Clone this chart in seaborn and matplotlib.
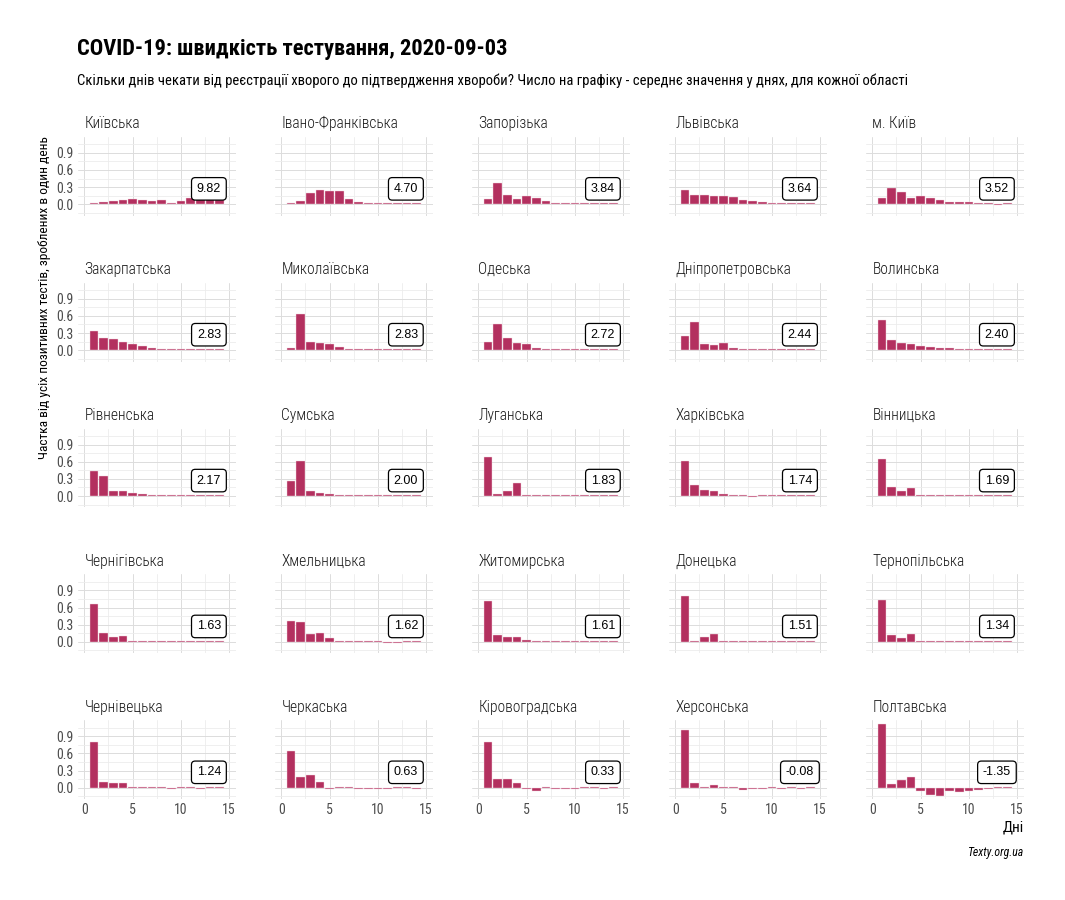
"""COVID-19: швидкість тестування по областях (facet bar charts)."""

import matplotlib
matplotlib.use("Agg")
import matplotlib.pyplot as plt
from matplotlib import font_manager
from matplotlib.ticker import MultipleLocator, FormatStrFormatter
import numpy as np
import pandas as pd
import seaborn as sns

# ---------- дані ----------
regions = ["Київська", "Івано-Франківська", "Запорізька", "Львівська", "м. Київ",
           "Закарпатська", "Миколаївська", "Одеська", "Дніпропетровська", "Волинська",
           "Рівненська", "Сумська", "Луганська", "Харківська", "Вінницька",
           "Чернігівська", "Хмельницька", "Житомирська", "Донецька", "Тернопільська",
           "Чернівецька", "Черкаська", "Кіровоградська", "Херсонська", "Полтавська"]
avg_days = [9.82, 4.70, 3.84, 3.64, 3.52,
            2.83, 2.83, 2.72, 2.44, 2.40,
            2.17, 2.00, 1.83, 1.74, 1.69,
            1.63, 1.62, 1.61, 1.51, 1.34,
            1.24, 0.63, 0.33, -0.08, -1.35]
days = list(range(1, 15))

kyivska = [0.03, 0.04, 0.06, 0.07, 0.10, 0.08, 0.06, 0.08, 0.03, 0.05, 0.11, 0.12, 0.10, 0.07]
ivano_frankivska = [0.02, 0.06, 0.20, 0.25, 0.24, 0.24, 0.10, 0.04, 0.03, 0.015, 0.015, 0.015, 0.015, 0.015]
zaporizka = [0.085, 0.37, 0.17, 0.085, 0.14, 0.11, 0.06, 0.03, 0.02, 0.02, 0.02, 0.03, 0.015, 0.015]
lvivska = [0.25, 0.16, 0.16, 0.15, 0.14, 0.12, 0.08, 0.05, 0.045, 0.03, 0.015, 0.015, 0.015, 0.015]
kyiv_city = [0.11, 0.29, 0.21, 0.11, 0.15, 0.11, 0.08, 0.045, 0.035, 0.035, 0.025, 0.02, -0.015, 0.015]
zakarpatska = [0.33, 0.22, 0.20, 0.135, 0.10, 0.07, 0.035, 0.02, 0.02, 0.015, 0.015, 0.015, 0.015, 0.015]
mykolaivska = [0.03, 0.63, 0.135, 0.13, 0.11, 0.055, 0.015, 0.015, 0.015, 0.015, 0.015, 0.015, 0.015, 0.015]
odeska = [0.15, 0.45, 0.21, 0.125, 0.10, 0.045, 0.015, 0.015, 0.015, 0.015, 0.015, 0.015, 0.015, 0.015]
dnipropetrovska = [0.24, 0.50, 0.11, 0.09, 0.12, 0.03, 0.02, 0.02, 0.018, 0.015, 0.015, 0.015, 0.015, 0.015]
volynska = [0.52, 0.18, 0.13, 0.11, 0.08, 0.05, 0.03, 0.035, 0.02, 0.015, 0.015, 0.015, 0.015, 0.015]
rivnenska = [0.43, 0.345, 0.085, 0.095, 0.06, 0.03, 0.02, 0.02, 0.02, 0.015, 0.015, 0.015, 0.015, 0.015]
sumska = [0.27, 0.61, 0.08, 0.045, 0.03, 0.02, 0.015, 0.018, 0.015, 0.015, 0.015, 0.015, 0.015, 0.015]
luhanska = [0.68, 0.04, 0.08, 0.22, 0.015, 0.015, 0.015, 0.015, 0.015, 0.015, 0.015, 0.015, 0.015, 0.015]
kharkivska = [0.61, 0.19, 0.10, 0.09, 0.04, 0.02, 0.015, -0.015, 0.015, 0.015, 0.015, 0.015, 0.015, 0.015]
vinnytska = [0.65, 0.15, 0.08, 0.14, 0.015, 0.015, 0.015, 0.015, 0.015, 0.015, 0.015, 0.015, 0.015, 0.015]
chernihivska = [0.67, 0.16, 0.09, 0.11, 0.015, 0.015, 0.015, 0.015, 0.015, 0.015, 0.015, 0.015, 0.015, 0.015]
khmelnytska = [0.37, 0.35, 0.13, 0.16, 0.07, 0.02, 0.018, 0.015, 0.015, 0.015, -0.015, -0.015, 0.015, 0.015]
zhytomyrska = [0.71, 0.12, 0.09, 0.085, 0.03, 0.015, 0.015, 0.015, 0.015, 0.015, 0.015, 0.015, 0.015, 0.015]
donetska = [0.81, 0.02, 0.08, 0.13, 0.015, 0.015, 0.015, 0.015, 0.015, 0.015, 0.015, 0.015, 0.015, 0.015]
ternopilska = [0.74, 0.12, 0.07, 0.13, 0.015, 0.015, 0.015, 0.015, 0.015, 0.015, 0.015, 0.015, 0.015, 0.015]
chernivetska = [0.80, 0.10, 0.085, 0.08, 0.015, 0.015, 0.015, 0.015, -0.015, 0.015, 0.015, -0.015, 0.015, 0.015]
cherkaska = [0.65, 0.195, 0.22, 0.10, -0.02, 0.015, 0.015, -0.015, -0.015, -0.025, -0.018, 0.015, 0.015, -0.015]
kirovohradska = [0.80, 0.15, 0.15, 0.09, -0.03, -0.055, 0.015, -0.02, -0.02, -0.02, 0.015, 0.015, -0.02, 0.015]
khersonska = [1.01, 0.075, 0.02, 0.05, 0.02, 0.015, -0.04, -0.02, -0.02, 0.015, -0.015, 0.015, -0.015, 0.015]
poltavska = [1.12, 0.07, 0.135, 0.19, -0.065, -0.12, -0.14, -0.055, -0.075, -0.055, -0.04, -0.03, 0.015, 0.015]

shares = [kyivska, ivano_frankivska, zaporizka, lvivska, kyiv_city,
          zakarpatska, mykolaivska, odeska, dnipropetrovska, volynska,
          rivnenska, sumska, luhanska, kharkivska, vinnytska,
          chernihivska, khmelnytska, zhytomyrska, donetska, ternopilska,
          chernivetska, cherkaska, kirovohradska, khersonska, poltavska]

df = pd.DataFrame({
    "region": np.repeat(regions, len(days)),
    "day": days * len(regions),
    "share": np.concatenate(shares),
})

# ---------- стиль ----------
sns.set_theme(style="whitegrid")

# вузький шрифт, якщо є; інакше Roboto з меншим кеглем
installed = {f.name for f in font_manager.fontManager.ttflist}
narrow = next((n for n in ["Roboto Condensed", "Liberation Sans Narrow",
                           "Open Sans Condensed"] if n in installed), None)
if narrow:
    plt.rcParams["font.family"] = [narrow, "DejaVu Sans"]
    k = 1.0
else:
    plt.rcParams["font.family"] = ["Roboto", "DejaVu Sans"]
    k = 0.78

BAR_COLOR = "#b3305f"
GRAY = "#4d4d4d"

g = sns.FacetGrid(df, col="region", col_wrap=5, col_order=regions,
                  sharex=True, sharey=True, despine=True)
g.map_dataframe(sns.barplot, x="day", y="share", native_scale=True,
                color=BAR_COLOR, saturation=1, width=0.9,
                edgecolor="#f3d6df", linewidth=0.3)

fig = g.figure
fig.set_size_inches(10.65, 9)
fig.subplots_adjust(left=0.0732, right=0.9615, top=0.848, bottom=0.112,
                    wspace=0.247, hspace=0.848)

for i, (ax, name, avg) in enumerate(zip(g.axes.flat, regions, avg_days)):
    ax.set_xlim(-0.65, 15.7)
    ax.set_ylim(-0.2, 1.18)
    ax.xaxis.set_major_locator(MultipleLocator(5))
    ax.xaxis.set_minor_locator(MultipleLocator(2.5))
    ax.yaxis.set_major_locator(MultipleLocator(0.3))
    ax.yaxis.set_minor_locator(MultipleLocator(0.15))
    ax.yaxis.set_major_formatter(FormatStrFormatter("%.1f"))
    ax.grid(True, which="major", color="#dcdcdc", linewidth=0.7)
    ax.grid(True, which="minor", color="#ececec", linewidth=0.6)
    ax.set_axisbelow(True)
    for s in ax.spines.values():
        s.set_visible(False)
    ax.tick_params(axis="both", which="both", length=0, labelsize=10 * k,
                   labelcolor=GRAY, pad=3)
    ax.set_xlabel("")
    ax.set_ylabel("")
    ax.set_title("")
    ax.set_title(name, loc="left", fontsize=11.2 * k, fontweight="light",
                 color="#1a1a1a", pad=6, x=0.04)
    ax.text(12.9, 0.27, f"{avg:.2f}", ha="center", va="center", fontsize=9,
            family=["Liberation Sans", "DejaVu Sans"], color="black",
            bbox=dict(boxstyle="round,pad=0.42,rounding_size=0.3",
                      fc="white", ec="black", lw=0.9))
    if i % 5 != 0:
        ax.tick_params(axis="y", labelleft=False)
    ax.tick_params(axis="x", labelbottom=i >= 20)

# ---------- підписи ----------
fig.text(0.0723, 0.946, "COVID-19: швидкість тестування, 2020-09-03",
         fontsize=16.2 * k, fontweight="bold", color="black", ha="left", va="center")
fig.text(0.0723, 0.91,
         "Скільки днів чекати від реєстрації хворого до підтвердження хвороби? "
         "Число на графіку - середнє значення у днях, для кожної області",
         fontsize=10.5 * k, color="black", ha="left", va="center")
fig.text(0.042, 1 - 298 / 900,
         "Частка від усіх позитивних тестів, зроблених в один день",
         rotation=90, fontsize=9.6 * k, color="black", ha="center", va="center")
fig.text(0.9615, 0.081, "Дні", fontsize=11 * k, color="black", ha="right", va="center")
fig.text(0.9615, 0.053, "Texty.org.ua", fontsize=8.5 * k, style="italic",
         color="black", ha="right", va="center")

fig.savefig("out.png", dpi=100)
